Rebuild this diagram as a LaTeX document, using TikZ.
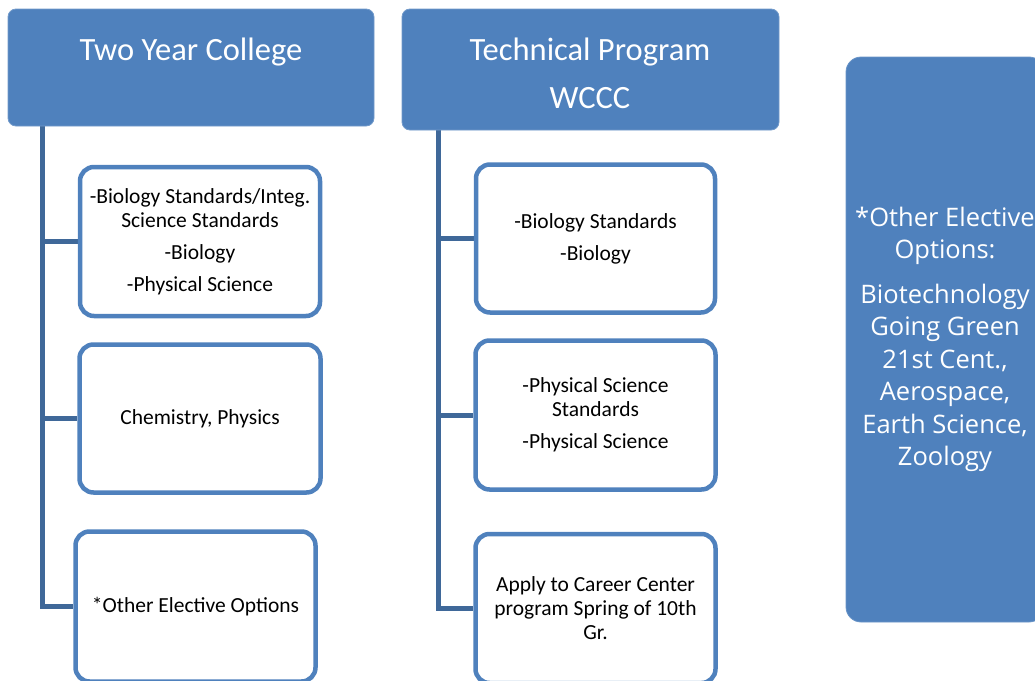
\documentclass[tikz,border=0pt]{standalone}
\usepackage{fontspec}
\usetikzlibrary{backgrounds}
\setmainfont{Carlito}
\newfontfamily\sidefont{Open Sans}
\definecolor{hdr}{HTML}{4F81BD}
\definecolor{conn}{HTML}{3F6899}
\tikzset{
  header/.style={draw=hdr!80!white, line width=0.8pt, fill=hdr, rounded corners=8pt, inner sep=0pt},
  htext/.style={text=white, font=\fontsize{32.5}{48}\selectfont, align=center, inner sep=0pt},
  itembox/.style={draw=hdr, line width=4.5pt, fill=white, rounded corners=14pt, inner sep=0pt,
    align=center, font=\fontsize{21.5}{24}\selectfont, text=black},
  connector/.style={draw=conn, line width=5pt, line join=miter},
  sidebox/.style={fill=hdr, draw=hdr!85!white, line width=0.8pt, rounded corners=15pt, inner sep=0pt,
    align=center, text=white, font=\sidefont\fontsize{25.5}{32.5}\selectfont}
}
\begin{document}
\begin{tikzpicture}[x=1pt,y=-1pt]
\useasboundingbox (0,0) rectangle (1035,680);
\clip (0,0) rectangle (1035,680);

% headers
\node[header, minimum width=366pt, minimum height=117pt] (h1) at (191,67.5) {};
\node[htext] (h1t) at (191,52) {Two Year College};
\node[header, minimum width=377pt, minimum height=121pt] (h2) at (590.5,69.5) {};
\node[htext] (h2t) at (590,73) {Technical Program\\WCCC};

% side box
\node[sidebox, minimum width=198pt, minimum height=565pt] (side) at (945,339.5)
  {*Other Elective\\Options:\\[12pt]Biotechnology\\Going Green\\21st Cent.,\\Aerospace,\\Earth Science,\\Zoology};

% left column boxes
\node[itembox, minimum width=240pt, minimum height=149pt] (b1) at (200,241.5)
  {-Biology Standards/Integ.\\Science Standards\\[8pt]-Biology\\[8pt]-Physical Science};
\node[itembox, minimum width=241pt, minimum height=148pt] (b2) at (200,418.5) {Chemistry, Physics};
\node[itembox, minimum width=240pt, minimum height=150pt] (b3) at (195.5,606.5) {*Other Elective Options};

% right column boxes
\node[itembox, minimum width=239pt, minimum height=148pt] (c1) at (595.5,238.5)
  {-Biology Standards\\[8pt]-Biology};
\node[itembox, minimum width=240pt, minimum height=149pt] (c2) at (595.5,415)
  {-Physical Science\\Standards\\[8pt]-Physical Science};
\node[itembox, minimum width=240pt, minimum height=149pt] (c3) at (595.5,608.5)
  {Apply to Career Center\\program Spring of 10th\\Gr.};

% connectors
\coordinate (t1) at (h1.south west -| 42,0);
\coordinate (t2) at (h2.south west -| 438,0);
\begin{scope}[on background layer]
\draw[connector] (t1) |- (b3.west);
\draw[connector] (t1 |- b1.west) -- (b1.west);
\draw[connector] (t1 |- b2.west) -- (b2.west);
\draw[connector] (t2) |- (c3.west);
\draw[connector] (t2 |- c1.west) -- (c1.west);
\draw[connector] (t2 |- c2.west) -- (c2.west);
\end{scope}
\end{tikzpicture}
\end{document}
